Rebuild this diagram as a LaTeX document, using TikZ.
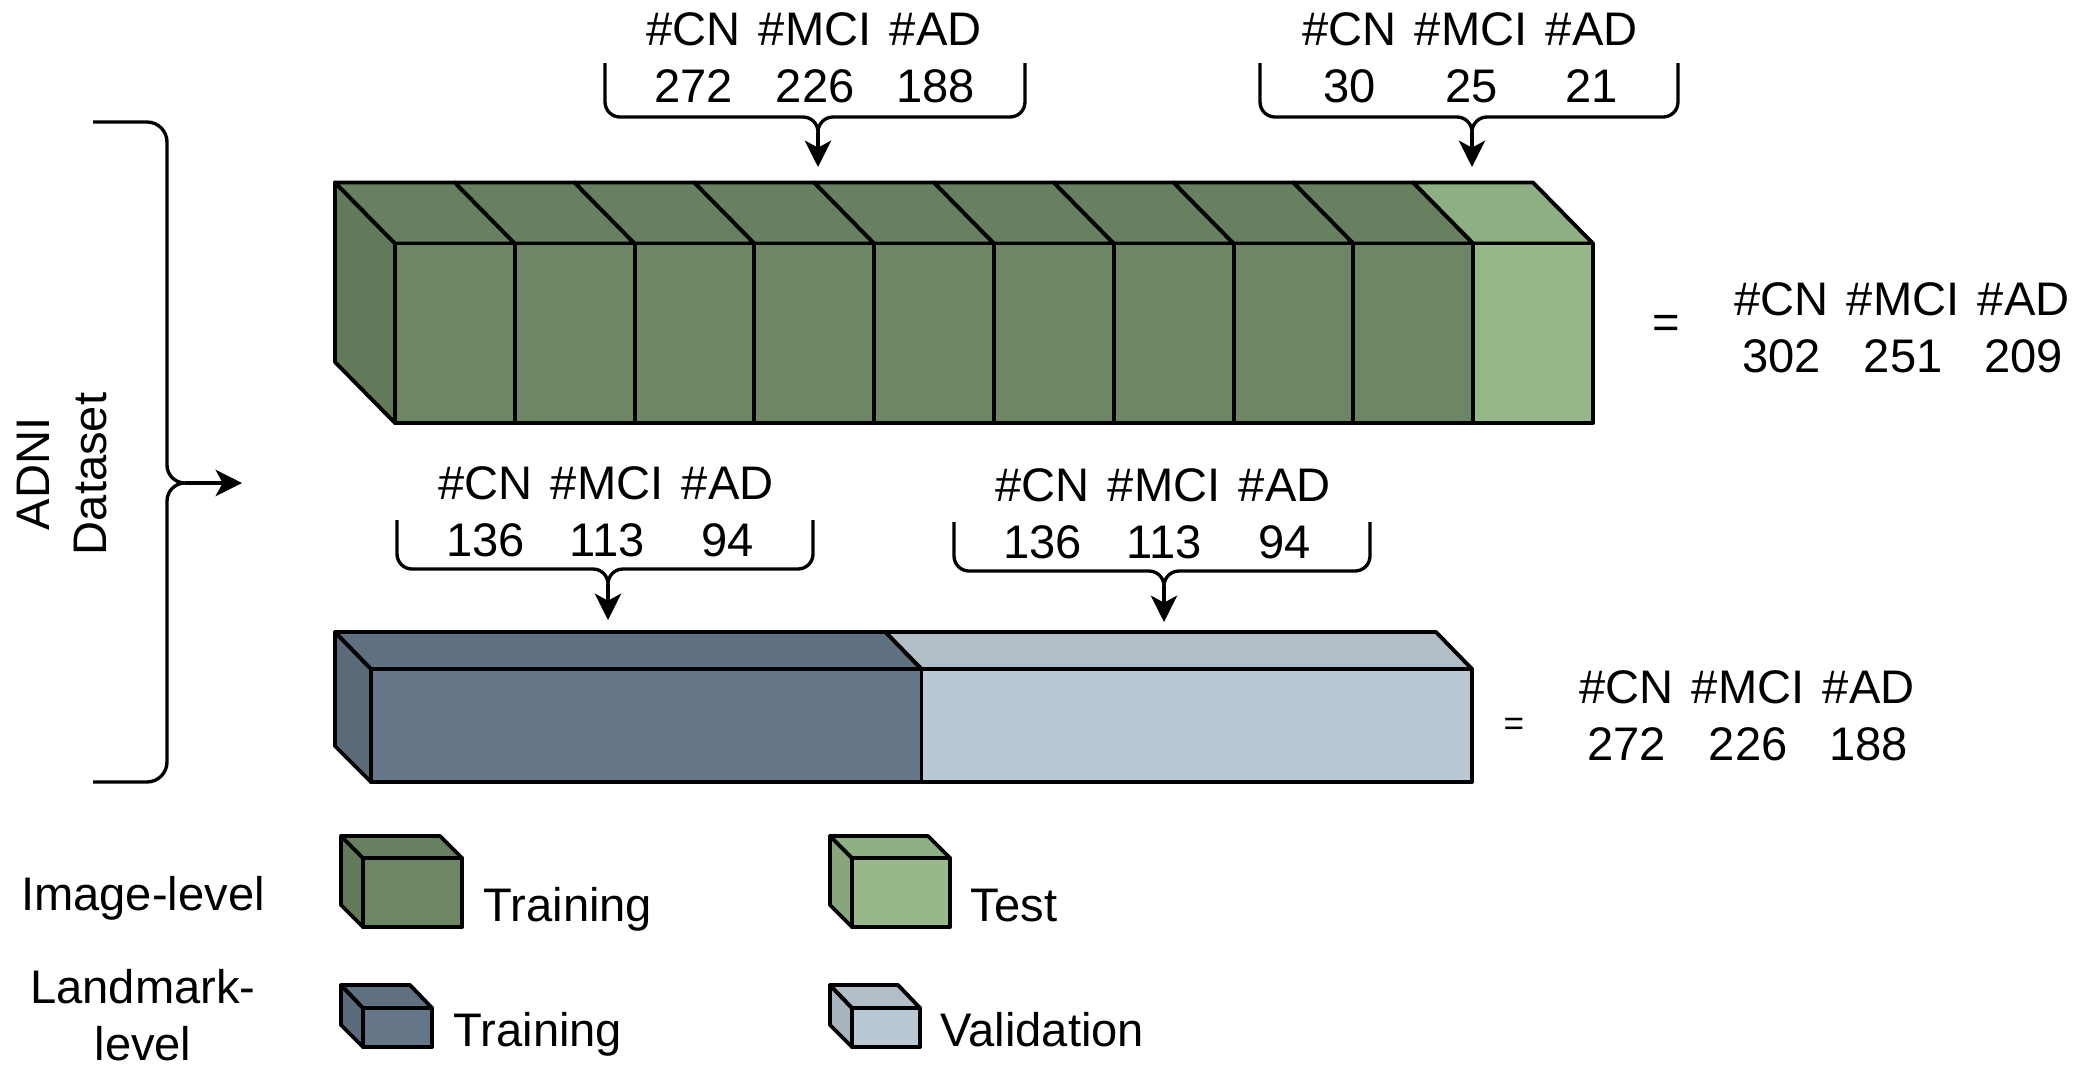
\documentclass[tikz,border=0pt]{standalone}
\usepackage{fontspec}
\setmainfont{Liberation Sans}
\usetikzlibrary{arrows.meta}
\definecolor{trainG}{HTML}{6D8764}
\definecolor{trainGtop}{HTML}{67805F}
\definecolor{trainGside}{HTML}{627A5A}
\definecolor{testG}{HTML}{97B98A}
\definecolor{testGtop}{HTML}{8DAF83}
\definecolor{testGside}{HTML}{88A67C}
\definecolor{trainB}{HTML}{647687}
\definecolor{trainBtop}{HTML}{5F7080}
\definecolor{trainBside}{HTML}{5A6A79}
\definecolor{valB}{HTML}{BAC8D3}
\definecolor{valBtop}{HTML}{B1BEC8}
\definecolor{valBside}{HTML}{A7B4BE}
\tikzstyle{arrow} = [line width=0.95pt,-{Stealth[length=7.5pt,width=7.5pt,inset=2pt]}]
\tikzstyle{brace} = [line width=0.95pt]
\tikzstyle{face} = [draw=black, line width=1.1pt, line join=round]
\tikzstyle{txt} = [inner sep=0pt, font=\fontsize{13.4}{16.2}\selectfont]
\newcommand{\counts}[3]{\setlength{\tabcolsep}{2.6pt}\begin{tabular}{@{}ccc@{}}\#CN & \#MCI & \#AD\\ #1 & #2 & #3\end{tabular}}

\begin{document}
\begin{tikzpicture}[x=0.01cm, y=0.01cm]
		\useasboundingbox (0,0) rectangle (2090,-1075);
		% image-level bar
		\draw [face, fill=trainGside] (395,-243.5) -- (335,-182.5) -- (335,-362) -- (395,-423) -- cycle;
		\foreach \i in {0,...,8} {
			\draw [face, fill=trainGtop] (395+119.8*\i,-243.5) -- ++(119.8,0) -- ++(-60,61) -- ++(-119.8,0) -- cycle;
			\draw [face, fill=trainG] (395+119.8*\i,-243.5) rectangle ++(119.8,-179.5);
		}
		\draw [face, fill=testGtop] (1473.2,-243.5) -- (1593,-243.5) -- (1533,-182.5) -- (1413.2,-182.5) -- cycle;
		\draw [face, fill=testG] (1473.2,-243.5) rectangle (1593,-423);
		% landmark-level bar
		\draw [face, fill=trainBside] (371,-669) -- (335,-632) -- (335,-746) -- (371,-782) -- cycle;
		\draw [face, fill=trainBtop] (371,-669) -- (921.5,-669) -- (885.5,-632) -- (335,-632) -- cycle;
		\draw [face, fill=trainB] (371,-669) rectangle (921.5,-782);
		\draw [face, fill=valBtop] (921.5,-669) -- (1472,-669) -- (1436,-632) -- (885.5,-632) -- cycle;
		\draw [face, fill=valB] (921.5,-669) rectangle (1472,-782);

		% counts
		\node (cntTrain) [txt] at (814,-63) {\counts{272}{226}{188}};
		\node (cntTest) [txt] at (1470,-63) {\counts{30}{25}{21}};
		\node (cntLmTrain) [txt] at (606,-517) {\counts{136}{113}{94}};
		\node (cntLmVal) [txt] at (1163,-519) {\counts{136}{113}{94}};
		\node (eqImg) [txt] at (1666,-327) {=};
		\node (totImg) [txt] at (1902,-333) {\counts{302}{251}{209}};
		\node (eqLm) [inner sep=0pt, font=\fontsize{10}{12}\selectfont] at (1514,-727) {=};
		\node (totLm) [txt] at (1747,-721) {\counts{272}{226}{188}};
		\node (adni) [txt, rotate=90, align=center] at (62,-474) {ADNI\\Dataset};

		% braces
		\draw [brace] (605,-63) -- (605,-102) arc[start angle=180, end angle=270, radius=15] -- (803,-117) arc[start angle=90, end angle=0, radius=15] coordinate (tipTrain) arc[start angle=180, end angle=90, radius=15] -- (1010,-117) arc[start angle=270, end angle=360, radius=15] -- (1025,-63);
		\draw [brace] (1260,-63) -- (1260,-102) arc[start angle=180, end angle=270, radius=15] -- (1457,-117) arc[start angle=90, end angle=0, radius=15] coordinate (tipTest) arc[start angle=180, end angle=90, radius=15] -- (1663,-117) arc[start angle=270, end angle=360, radius=15] -- (1678,-63);
		\draw [brace] (397,-520) -- (397,-554) arc[start angle=180, end angle=270, radius=15] -- (593,-569) arc[start angle=90, end angle=0, radius=15] coordinate (tipLmTrain) arc[start angle=180, end angle=90, radius=15] -- (798,-569) arc[start angle=270, end angle=360, radius=15] -- (813,-520);
		\draw [brace] (954,-522) -- (954,-556) arc[start angle=180, end angle=270, radius=15] -- (1149,-571) arc[start angle=90, end angle=0, radius=15] coordinate (tipLmVal) arc[start angle=180, end angle=90, radius=15] -- (1355,-571) arc[start angle=270, end angle=360, radius=15] -- (1370,-522);
		\draw [brace] (93,-122) -- (147,-122) arc[start angle=90, end angle=0, radius=20] -- (167,-465) arc[start angle=180, end angle=270, radius=18] coordinate (tipAdni) arc[start angle=90, end angle=180, radius=18] -- (167,-762) arc[start angle=0, end angle=-90, radius=20] -- (93,-782);
		\coordinate (inTrain) at (818,-167);
		\coordinate (inTest) at (1472,-167);
		\coordinate (inLmTrain) at (608,-620);
		\coordinate (inLmVal) at (1164,-622);
		\coordinate (inBars) at (242,-483);
		\draw [arrow] (tipTrain) -- (inTrain);
		\draw [arrow] (tipTest) -- (inTest);
		\draw [arrow] (tipLmTrain) -- (inLmTrain);
		\draw [arrow] (tipLmVal) -- (inLmVal);
		\draw [arrow] (tipAdni) -- (inBars);

		% legend
		\draw [face, fill=trainGside] (363,-858) -- (341,-836) -- (341,-905) -- (363,-927) -- cycle;
		\draw [face, fill=trainGtop] (363,-858) -- (462,-858) -- (440,-836) -- (341,-836) -- cycle;
		\draw [face, fill=trainG] (363,-858) rectangle (462,-927);
		\draw [face, fill=testGside] (852,-858) -- (830,-836) -- (830,-905) -- (852,-927) -- cycle;
		\draw [face, fill=testGtop] (852,-858) -- (950,-858) -- (928,-836) -- (830,-836) -- cycle;
		\draw [face, fill=testG] (852,-858) rectangle (950,-927);
		\draw [face, fill=trainBside] (363,-1008) -- (341,-985) -- (341,-1025) -- (363,-1047) -- cycle;
		\draw [face, fill=trainBtop] (363,-1008) -- (432,-1008) -- (410,-985) -- (341,-985) -- cycle;
		\draw [face, fill=trainB] (363,-1008) rectangle (432,-1047);
		\draw [face, fill=valBside] (852,-1008) -- (830,-985) -- (830,-1025) -- (852,-1047) -- cycle;
		\draw [face, fill=valBtop] (852,-1008) -- (920,-1008) -- (898,-985) -- (830,-985) -- cycle;
		\draw [face, fill=valB] (852,-1008) rectangle (920,-1047);
		\node (imgLevel) [txt, anchor=base] at (143,-910) {Image-level};
		\node (lmLevel) [txt, align=center] at (143,-1015) {Landmark-\\level};
		\node (keyTrainG) [txt, anchor=base west] at (483,-921) {Training};
		\node (keyTest) [txt, anchor=base west] at (970,-921) {Test};
		\node (keyTrainB) [txt, anchor=base west] at (453,-1046) {Training};
		\node (keyVal) [txt, anchor=base west] at (940,-1046) {Validation};
	\end{tikzpicture}
\end{document}
